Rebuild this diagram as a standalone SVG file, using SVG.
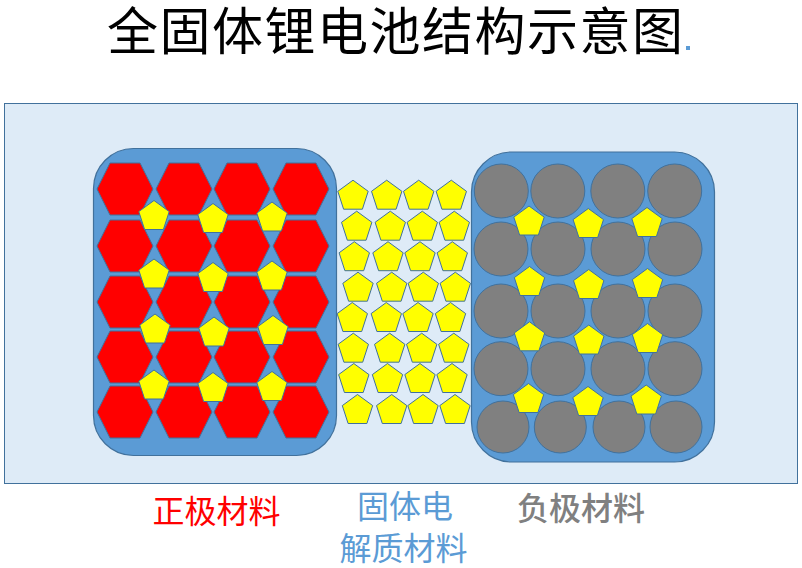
<svg xmlns="http://www.w3.org/2000/svg" xmlns:xlink="http://www.w3.org/1999/xlink" width="802" height="568" viewBox="0 0 802 568">
<style>
.bg{fill:#DEEBF7;stroke:#41719C;stroke-width:1}
.box{fill:#5B9BD5;stroke:#41719C;stroke-width:1.2}
.hex{fill:#FF0000;stroke:#41719C;stroke-width:1}
.pen{fill:#FFFF00;stroke:#41719C;stroke-width:1}
.cir{fill:#808080;stroke:#41719C;stroke-width:1}
.t{font-family:"Noto Sans CJK SC","Noto Sans CJK JP",sans-serif}
</style>
<defs>
<path id="hx" d="M-28,0 L-15,-26 L15,-26 L28,0 L15,26 L-15,26 Z"/>
<path id="pg" d="M0,-14.5 L15.2,-3.4 L9.4,14.5 L-9.4,14.5 L-15.2,-3.4 Z"/>
</defs>
<rect width="802" height="568" fill="#FFFFFF"/>
<g id="title">
<text class="t" x="107" y="50" font-size="51" letter-spacing="1.5" fill="#000000">全固体锂电池结构示意图</text>
<rect x="686" y="46" width="4" height="4" fill="#5B9BD5"/>
</g>
<g id="panel"><rect class="bg" x="4.5" y="103.5" width="793" height="380"/></g>
<g id="cathode">
<rect class="box" x="93.5" y="148.5" width="243" height="307" rx="40"/>
<g class="hex">
<use xlink:href="#hx" x="125" y="189"/><use xlink:href="#hx" x="184" y="189"/><use xlink:href="#hx" x="242" y="189"/><use xlink:href="#hx" x="301" y="189"/>
<use xlink:href="#hx" x="125" y="246"/><use xlink:href="#hx" x="184" y="246"/><use xlink:href="#hx" x="242" y="246"/><use xlink:href="#hx" x="301" y="246"/>
<use xlink:href="#hx" x="125" y="302"/><use xlink:href="#hx" x="184" y="302"/><use xlink:href="#hx" x="242" y="302"/><use xlink:href="#hx" x="301" y="302"/>
<use xlink:href="#hx" x="125" y="357"/><use xlink:href="#hx" x="184" y="357"/><use xlink:href="#hx" x="242" y="357"/><use xlink:href="#hx" x="301" y="357"/>
<use xlink:href="#hx" x="125" y="412"/><use xlink:href="#hx" x="184" y="412"/><use xlink:href="#hx" x="242" y="412"/><use xlink:href="#hx" x="301" y="412"/>
</g>
<g class="pen">
<use xlink:href="#pg" x="154" y="215"/><use xlink:href="#pg" x="213" y="218"/><use xlink:href="#pg" x="272" y="216.5"/>
<use xlink:href="#pg" x="154" y="273.5"/><use xlink:href="#pg" x="213" y="277"/><use xlink:href="#pg" x="272" y="275.5"/>
<use xlink:href="#pg" x="155" y="328.5"/><use xlink:href="#pg" x="214" y="331.5"/><use xlink:href="#pg" x="273" y="330"/>
<use xlink:href="#pg" x="154" y="384.5"/><use xlink:href="#pg" x="213" y="387"/><use xlink:href="#pg" x="272" y="386"/>
</g>
</g>
<g id="electrolyte" class="pen">
<use xlink:href="#pg" x="353" y="194.7"/><use xlink:href="#pg" x="386.7" y="194.7"/><use xlink:href="#pg" x="418.7" y="194.7"/><use xlink:href="#pg" x="451.3" y="194.7"/>
<use xlink:href="#pg" x="356.7" y="225.7"/><use xlink:href="#pg" x="390.3" y="225.7"/><use xlink:href="#pg" x="422.3" y="225.7"/><use xlink:href="#pg" x="454.3" y="225.7"/>
<use xlink:href="#pg" x="354.3" y="256.2"/><use xlink:href="#pg" x="388" y="256.2"/><use xlink:href="#pg" x="420" y="256.2"/><use xlink:href="#pg" x="452.3" y="256.2"/>
<use xlink:href="#pg" x="358" y="286.7"/><use xlink:href="#pg" x="391.7" y="286.7"/><use xlink:href="#pg" x="423.3" y="286.7"/><use xlink:href="#pg" x="455.3" y="286.7"/>
<use xlink:href="#pg" x="352.3" y="317"/><use xlink:href="#pg" x="386.3" y="317"/><use xlink:href="#pg" x="418" y="317"/><use xlink:href="#pg" x="450.5" y="317"/>
<use xlink:href="#pg" x="353.3" y="347.7"/><use xlink:href="#pg" x="389.7" y="347.7"/><use xlink:href="#pg" x="421.7" y="347.7"/><use xlink:href="#pg" x="453.8" y="347.7"/>
<use xlink:href="#pg" x="353.8" y="378"/><use xlink:href="#pg" x="387.5" y="378"/><use xlink:href="#pg" x="420" y="378"/><use xlink:href="#pg" x="452" y="378"/>
<use xlink:href="#pg" x="357.5" y="409"/><use xlink:href="#pg" x="391.7" y="409"/><use xlink:href="#pg" x="423" y="409"/><use xlink:href="#pg" x="455" y="409"/>
</g>
<g id="anode">
<rect class="box" x="471.5" y="152" width="243" height="310" rx="40"/>
<g class="cir">
<circle cx="501.3" cy="191" r="27"/><circle cx="557.8" cy="191" r="27"/><circle cx="617.8" cy="191" r="27"/><circle cx="674.7" cy="191" r="27"/>
<circle cx="501" cy="249" r="27"/><circle cx="558" cy="249" r="27"/><circle cx="618" cy="249" r="27"/><circle cx="675" cy="249" r="27"/>
<circle cx="501" cy="311" r="27"/><circle cx="558" cy="311" r="27"/><circle cx="618" cy="311" r="27"/><circle cx="675" cy="311" r="27"/>
<circle cx="501" cy="368.7" r="27"/><circle cx="558" cy="368.7" r="27"/><circle cx="618" cy="368.7" r="27"/><circle cx="675" cy="368.7" r="27"/>
<circle cx="503" cy="427" r="26"/><circle cx="560.3" cy="427" r="26"/><circle cx="619" cy="427" r="26"/><circle cx="676" cy="427" r="26"/>
</g>
<g class="pen">
<use xlink:href="#pg" x="529" y="220.5"/><use xlink:href="#pg" x="588.3" y="223"/><use xlink:href="#pg" x="647" y="222"/>
<use xlink:href="#pg" x="529.5" y="281"/><use xlink:href="#pg" x="588.7" y="284"/><use xlink:href="#pg" x="647.5" y="283"/>
<use xlink:href="#pg" x="529.5" y="336.3"/><use xlink:href="#pg" x="588.8" y="339.5"/><use xlink:href="#pg" x="647.5" y="338"/>
<use xlink:href="#pg" x="528.5" y="398"/><use xlink:href="#pg" x="588" y="401"/><use xlink:href="#pg" x="646.2" y="399.5"/>
</g>
</g>
<g id="label-cathode"><text class="t" x="216.5" y="523" font-size="32" fill="#FF0000" text-anchor="middle">正极材料</text></g>
<g id="label-electrolyte">
<text class="t" x="405" y="518" font-size="32" fill="#5B9BD5" text-anchor="middle">固体电</text>
<text class="t" x="403.5" y="560" font-size="32" fill="#5B9BD5" text-anchor="middle">解质材料</text>
</g>
<g id="label-anode"><text class="t" x="581" y="520" font-size="32" fill="#808080" text-anchor="middle" font-weight="500">负极材料</text></g>
</svg>
